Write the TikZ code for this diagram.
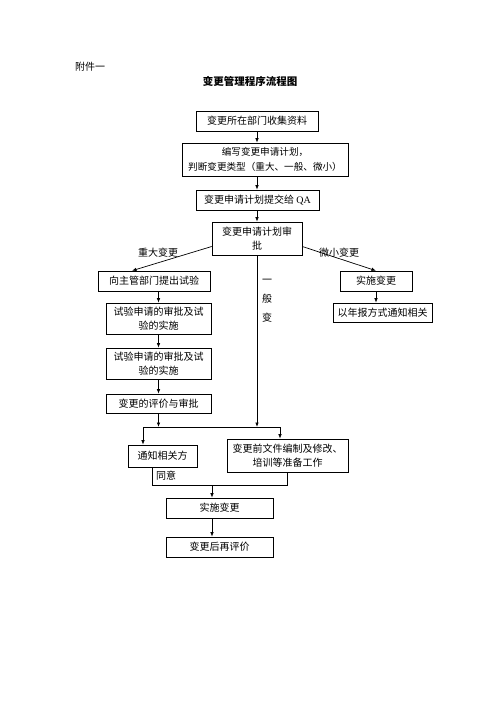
\documentclass[tikz,border=0pt]{standalone}
\usepackage{fontspec}
\setmainfont{Liberation Serif}
\newfontfamily\cjk{Noto Sans CJK SC}
\usepackage{tikz}
\usetikzlibrary{arrows.meta,calc}

\begin{document}
\begin{tikzpicture}[x=1pt,y=-1pt,
  box/.style={draw,line width=0.6pt,inner sep=0pt,align=center,font=\cjk\fontsize{10}{14}\selectfont},
  lbl/.style={inner sep=0pt,align=center,font=\cjk\fontsize{10}{14}\selectfont},
  ln/.style={line width=0.7pt},
  ar/.style={ln,-{Latex[length=4.5pt,width=3.5pt]}},
]
\useasboundingbox (0,0) rectangle (500,707);

% header
\node[lbl,anchor=west] (att) at (75,67) {附件一};
\node[lbl,font=\cjk\bfseries\fontsize{10.5}{14}\selectfont] (ttl) at (250,81) {变更管理程序流程图};

% main column
\node[box,minimum width=122,minimum height=20] (b1) at (257,121) {变更所在部门收集资料};
\node[box,minimum width=166,minimum height=33,font=\cjk\fontsize{9.6}{14.5}\selectfont] (b2) at (265,159.5) {编写变更申请计划，\\判断变更类型（重大、一般、微小）};
\node[box,minimum width=123,minimum height=20] (b3) at (257.5,200) {变更申请计划提交给 {\rmfamily QA}};
\node[box,minimum width=90,minimum height=33] (b4) at (257,238.5) {变更申请计划审\\批};
\draw[ar] (b1.south) -- (b1.south |- b2.north);
\draw[ar] (b1.south |- b2.south) -- (b1.south |- b3.north);
\draw[ar] (b3.south -| b4.north) -- (b4.north);

% left branch: major change
\node[box,minimum width=112,minimum height=20] (b5) at (154,281) {向主管部门提出试验};
\node[box,minimum width=105,minimum height=31] (b8) at (158.5,318.5) {试验申请的审批及试\\验的实施};
\node[box,minimum width=105,minimum height=31] (b9) at (158.5,363.5) {试验申请的审批及试\\验的实施};
\node[box,minimum width=105,minimum height=19] (b10) at (158.5,403.5) {变更的评价与审批};
\draw[ar] (b4.190) -- ($(b5.north)+(-22,0)$);
\node[lbl] (major) at (158,253) {重大变更};
\draw[ar] (b8.north |- b5.south) -- (b8.north);
\draw[ar] (b8.south) -- (b9.north);
\draw[ar] (b9.south) -- (b10.north);

% right branch: minor change
\node[box,minimum width=72,minimum height=20] (b6) at (376,281) {实施变更};
\node[box,minimum width=99,minimum height=19] (b7) at (382.5,312.5) {以年报方式通知相关};
\draw[ar] (b4.350) -- (b6.north);
\node[lbl] (minor) at (339,253) {微小变更};
\draw[ar] (b6.south) -- (b6.south |- b7.north);

% middle: general change
\node[lbl,font=\cjk\fontsize{10}{19}\selectfont] (gen) at (267,301) {一\\般\\变};
\coordinate (jl) at (143,427);
\coordinate (jr) at (280,427);
\draw[ar] (b4.south) -- (b4.south |- jl);
\draw[ar] (b10.south) -- (b10.south |- jl);
\draw[ln] (jl) -- (jr);

% preparation
\node[box,minimum width=69,minimum height=22] (b11) at (162.5,456) {通知相关方};
\node[box,minimum width=121,minimum height=33] (b12) at (287.5,455.5) {变更前文件编制及修改、\\培训等准备工作};
\draw[ar] (jl) -- (jl |- b11.north);
\draw[ar] (jr) -- (jr |- b12.north);

% merge
\coordinate (ml) at (152,485);
\coordinate (mr) at (287.5,485);
\coordinate (mm) at (212,485);
\draw[ln] (ml |- b11.south) -- (ml) -- (mr) -- (b12.south);
\node[lbl] (agree) at (166,476) {同意};

\node[box,minimum width=107,minimum height=20] (b13) at (219.5,508) {实施变更};
\node[box,minimum width=107,minimum height=20] (b14) at (219.5,547) {变更后再评价};
\draw[ar] (mm) -- (mm |- b13.north);
\draw[ar] (mm |- b13.south) -- (mm |- b14.north);
\end{tikzpicture}
\end{document}
